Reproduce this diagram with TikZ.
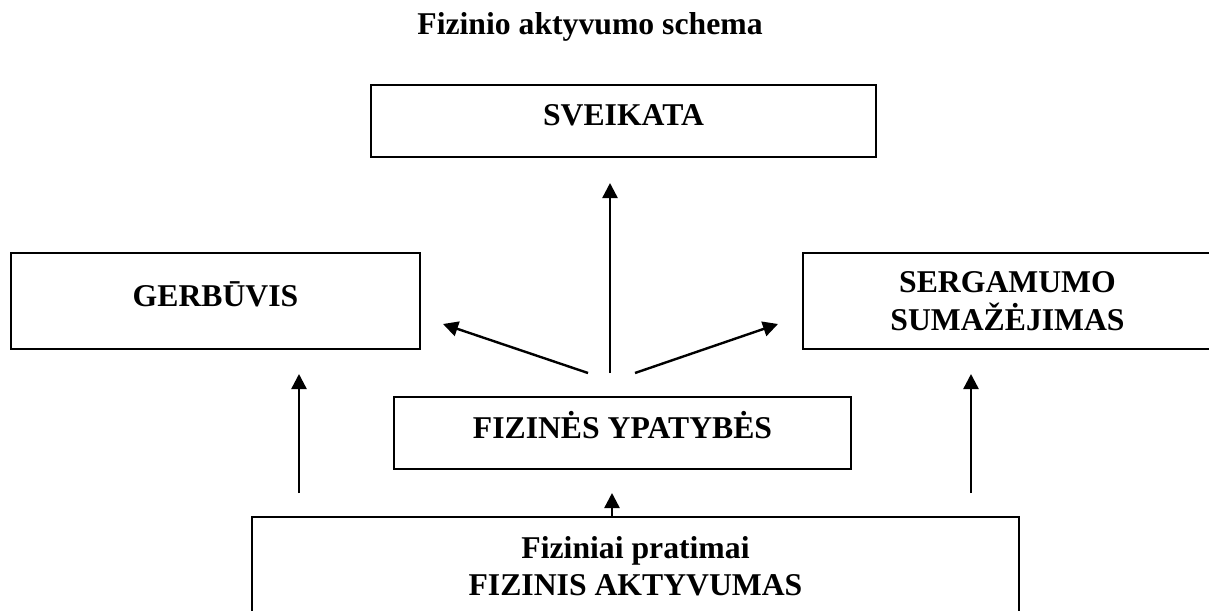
\documentclass[tikz,border=0pt]{standalone}
\usepackage{fontspec}
\setmainfont{Liberation Serif}
\usetikzlibrary{arrows.meta}
\tikzset{
  box/.style={draw, line width=1.7pt, inner sep=0pt, align=center,
    font=\bfseries\fontsize{31.7}{38}\selectfont},
  arr/.style={line width=2.4pt, -{Triangle[width=15pt,length=15pt]}},
  ttl/.style={font=\bfseries\fontsize{31.7}{38}\selectfont, inner sep=0pt}
}
\begin{document}
\begin{tikzpicture}[x=1pt,y=-1pt]
\useasboundingbox (0,0) rectangle (1209,610);
\clip (0,0) rectangle (1209,610);
\node[ttl, anchor=base] (title) at (590,35) {Fizinio aktyvumo schema};
\node[box, minimum width=505pt, minimum height=72pt, text height=22pt, text depth=14pt] (sv) at (623.5,121) {SVEIKATA};
\node[box, minimum width=409pt, minimum height=96pt, text height=22pt, text depth=12pt] (ge) at (215.5,301) {GERBŪVIS};
\node[box, minimum width=409pt, minimum height=96pt] (se) at (1007.5,301) {SERGAMUMO\\SUMAŽĖJIMAS};
\node[box, minimum width=457pt, minimum height=72pt, text height=22pt, text depth=12pt] (fy) at (622.5,433) {FIZINĖS YPATYBĖS};
\node[box, minimum width=767pt, minimum height=98pt, font=\bfseries\fontsize{31.7}{37}\selectfont] (fa) at (635.5,566) {Fiziniai pratimai\\FIZINIS AKTYVUMAS};
% connector ends
\coordinate (c1s) at (610,373); \coordinate (c1e) at (610,183);
\coordinate (c2s) at (588,373); \coordinate (c2e) at (443,324);
\coordinate (c3s) at (635,373); \coordinate (c3e) at (778,324);
\coordinate (c4s) at (299,493); \coordinate (c4e) at (299,374);
\coordinate (c5s) at (971,493); \coordinate (c5e) at (971,374);
\coordinate (c6s) at (fa.north -| 612,0); \coordinate (c6e) at (612,493);
\draw[arr] (c1s) -- (c1e);
\draw[arr] (c2s) -- (c2e);
\draw[arr] (c3s) -- (c3e);
\draw[arr] (c4s) -- (c4e);
\draw[arr] (c5s) -- (c5e);
\draw[arr] (c6s) -- (c6e);
\end{tikzpicture}
\end{document}
